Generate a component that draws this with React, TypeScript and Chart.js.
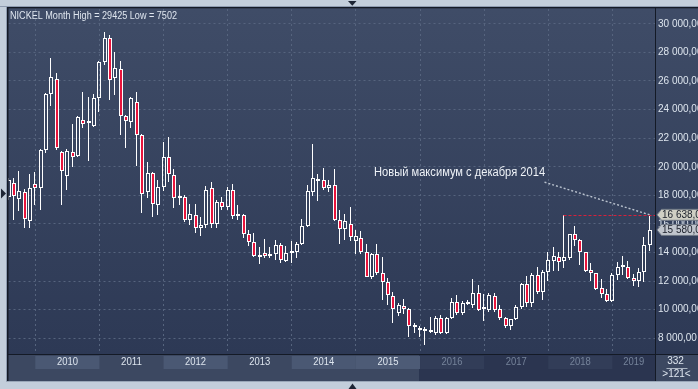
import React, { useEffect, useRef } from 'react';
import { Chart, registerables } from 'chart.js';

Chart.register(...registerables);

// Monthly NICKEL candles, Aug 2009 .. Aug 2019 (121 bars)
const OPEN = [
  17900, 18850, 17750, 18220, 16220,
  18820, 18540, 21200, 25060, 26160, 21060, 19380, 21060, 20780, 23290, 23070, 22850,
  24830, 27340, 29020, 26230, 26810, 23570, 23150, 24500, 22220, 18200, 19590, 17330,
  18610, 20710, 19410, 17780, 17850, 16310, 16660, 15750, 15960, 18480, 16030, 17500,
  17190, 18360, 16570, 16660, 15290, 14770, 13660, 13940, 13750, 13870, 14560, 13420,
  13940, 14010, 14630, 15870, 18240, 19170, 19060, 18480, 18750, 16260, 15640, 16030,
  14800, 15050, 14050, 12310, 13870, 12540, 11960, 10980, 9790, 10280, 10020, 8770,
  8740, 8630, 8420, 8400, 9400, 8400, 9400, 10560, 9750, 10400, 10330, 11140,
  10030, 9980, 10960, 10030, 9400, 8860, 9330, 10160, 11770, 10490, 12420, 11210,
  12610, 13420, 13660, 13420, 13630, 15290, 14910, 14010, 12770, 12540, 11490, 11070,
  10610, 12420, 12960, 12960, 12190, 12000, 12610, 14520,
];
const HIGH = [
  19200, 19200, 19730, 18430, 19480,
  19660, 21250, 25130, 27620, 26530, 21110, 21220, 22970, 23570, 25200, 24850, 25060,
  27390, 29425, 29250, 28000, 27390, 23620, 24900, 25200, 22270, 20310, 19620, 19080,
  21760, 22110, 19870, 18710, 18010, 17380, 17380, 16500, 18640, 18920, 17660, 17850,
  18590, 18780, 17310, 16680, 15610, 15400, 14400, 14940, 14400, 14870, 14680, 14450,
  14800, 14750, 16330, 18710, 21570, 19520, 19940, 19100, 19870, 16960, 16730, 17150,
  15570, 15500, 14630, 13980, 14590, 13700, 12190, 11260, 10490, 10720, 10090, 9090,
  8860, 8810, 9470, 9560, 9630, 9510, 10790, 11030, 10630, 10680, 12120, 11720,
  11070, 11140, 11140, 10330, 9470, 9370, 10330, 11840, 12350, 12540, 12960, 12770,
  14050, 14360, 14050, 16640, 15330, 15850, 14960, 14050, 13280, 12590, 12120, 11450,
  12540, 13350, 13750, 13420, 12470, 12890, 15100, 16638,
];
const LOW = [
  17700, 16290, 16920, 15700, 15700,
  17330, 16990, 20940, 24250, 21180, 17330, 18380, 20010, 20710, 22690, 20410, 22800,
  23850, 27110, 24670, 25020, 22220, 21290, 22690, 20060, 16750, 17800, 16470, 16640,
  18310, 18960, 17080, 17310, 16150, 15910, 15380, 15170, 15750, 15750, 15750, 17010,
  16960, 16330, 16260, 15050, 14450, 13700, 13170, 13590, 13590, 13470, 13240, 13350,
  13280, 13630, 14560, 15800, 17940, 17610, 18400, 18240, 16220, 14630, 14870, 14820,
  13890, 13890, 12260, 12140, 12420, 10680, 10330, 9090, 9560, 9700, 8120, 8400,
  8070, 7502, 8350, 8230, 8300, 8300, 9330, 9630, 9630, 10330, 10100, 9930,
  9200, 9860, 9860, 9280, 8750, 8580, 9280, 10030, 10210, 10210, 11100, 10680,
  12030, 12730, 12730, 12890, 13470, 14450, 13120, 12660, 12030, 11380, 10790, 10560,
  10560, 12070, 12420, 12120, 11650, 11610, 11960, 14120,
];
const CLOSE = [
  19050, 17920, 18270, 16360, 18540,
  18540, 21200, 25060, 26300, 21340, 19730, 21130, 20710, 23460, 23010, 23110, 24780,
  27340, 29020, 26060, 26880, 23550, 23200, 24780, 22220, 18100, 19590, 17400, 18610,
  20710, 19500, 17780, 17890, 16310, 16730, 15750, 15960, 18400, 16030, 17500, 17150,
  18360, 16570, 16660, 15330, 14770, 13750, 13820, 13750, 13890, 14560, 13470, 13980,
  14010, 14630, 15870, 18290, 19240, 19010, 18480, 18750, 16260, 15680, 16190, 15100,
  15150, 14050, 12310, 13870, 12540, 11960, 11030, 10020, 10330, 10020, 8860, 8860,
  8580, 8510, 8470, 9400, 8400, 9400, 10560, 9750, 10440, 10510, 11140, 9980,
  10050, 11000, 9980, 9400, 8860, 9330, 10200, 11780, 10490, 12420, 11240, 12610,
  13470, 13750, 13310, 13660, 15290, 14910, 14010, 12730, 12540, 11450, 11070, 10610,
  12420, 13010, 13050, 12190, 12000, 12660, 14520, 15580,
];

const YEARS = ['2010', '2011', '2012', '2013', '2014', '2015', '2016', '2017', '2018', '2019'];
const FIRST_JAN = 5; // bar index of Jan 2010
const Y_TICKS = [8000, 10000, 12000, 14000, 16000, 18000, 20000, 22000, 24000, 26000, 28000, 30000];
const TITLE = `NICKEL Month High = ${Math.max(...HIGH)} Low = ${Math.min(...LOW)}`;
const NOTE = 'Новый максимум с декабря 2014';
const NOTE_POS = { x: 68.4, y: 19340 };
const NOTE_LINE_START = { x: 100.3, y: 18920 };
const PEAK_FROM = 104; // Apr 2018 high
const LEVEL = 16638;
const LAST_CLOSE = CLOSE[CLOSE.length - 1];
const BARS_INFO = ['332', '>121<'];

const RED = '#e8143c';
const FONT = "'Liberation Sans', Arial, sans-serif";

const fmt = (v: number, dec: string) =>
  Math.round(v).toString().replace(/\B(?=(\d{3})+(?!\d))/g, ' ') + dec;

// snap bar elements (positions computed by the scales) to whole pixels
const snapPlugin = {
  id: 'snap',
  beforeDatasetsDraw(chart: any) {
    chart.data.datasets.forEach((_: any, di: number) => {
      const meta = chart.getDatasetMeta(di);
      meta.data.forEach((el: any) => {
        const X = Math.round(el.x);
        el.x = di === 0 ? X : X - 0.5;
        el.y = Math.round(el.y);
        el.base = Math.round(el.base);
      });
    });
  },
};

const framePlugin = {
  id: 'frame',
  beforeDraw(chart: any) {
    const { ctx, chartArea: a, scales } = chart;
    const x = scales.x;
    const W = chart.width;
    const H = chart.height;
    ctx.save();
    ctx.fillStyle = '#c3cedb';
    ctx.fillRect(0, 0, W, H);
    const g = ctx.createLinearGradient(0, a.top, 0, a.bottom);
    g.addColorStop(0, '#3f4c67');
    g.addColorStop(1, '#2d3955');
    ctx.fillStyle = g;
    ctx.fillRect(7, 7, W - 7, a.bottom - 7);
    // bottom band
    ctx.fillStyle = '#3c4861';
    ctx.fillRect(7, a.bottom, W - 7, 381 - a.bottom);
    ctx.fillStyle = '#2b3550';
    const darkStart = x.getPixelForValue(FIRST_JAN + 12 * 6) - 1;
    ctx.fillRect(darkStart, a.bottom + 1, a.right - darkStart, 381 - a.bottom - 1);
    ctx.font = `10px ${FONT}`;
    ctx.textAlign = 'center';
    ctx.textBaseline = 'middle';
    YEARS.forEach((yr, k) => {
      const x0 = x.getPixelForValue(FIRST_JAN + 12 * k);
      const x1 = Math.min(x.getPixelForValue(FIRST_JAN + 12 * (k + 1)), a.right);
      const future = k >= 6;
      if (k % 2 === 0 || k === 5) {
        ctx.fillStyle = future ? '#323d58' : k === 5 ? '#4d5b76' : '#4a5873';
        ctx.fillRect(x0, a.bottom + 2, x1 - x0, 13);
      }
      ctx.fillStyle = future ? '#75839a' : '#dde5ee';
      ctx.fillText(yr, (x0 + x1) / 2, a.bottom + 8.5, 21);
    });
    ctx.restore();
  },
  afterDraw(chart: any) {
    const { ctx, chartArea: a, scales } = chart;
    const x = scales.x;
    const y = scales.y;
    const W = chart.width;
    ctx.save();
    // borders
    ctx.fillStyle = '#8e9bb0';
    ctx.fillRect(0, 6, W, 1);
    ctx.fillRect(6, 6, 1, 376);
    ctx.fillStyle = '#9aa7b8';
    ctx.fillRect(6, 381, W - 6, 1);
    ctx.fillStyle = '#141a26';
    ctx.fillRect(7, 7, W - 7, 1.3);
    ctx.fillRect(7, 7, 1.5, 374);
    ctx.fillRect(7, a.bottom, W - 7, 1);
    ctx.fillRect(a.right, 7, 1, 374);
    // triangles
    ctx.fillStyle = '#1d2535';
    ctx.beginPath();
    ctx.moveTo(348, 1); ctx.lineTo(356.5, 1); ctx.lineTo(352.3, 5.8); ctx.closePath(); ctx.fill();
    ctx.beginPath();
    ctx.moveTo(348.5, 389); ctx.lineTo(356.5, 389); ctx.lineTo(352.5, 383.5); ctx.closePath(); ctx.fill();
    ctx.beginPath();
    ctx.moveTo(1, 188.5); ctx.lineTo(1, 198.5); ctx.lineTo(6, 193.5); ctx.closePath(); ctx.fill();

    // title
    ctx.fillStyle = '#dfe6ef';
    ctx.font = `10px ${FONT}`;
    ctx.textAlign = 'left';
    ctx.textBaseline = 'alphabetic';
    ctx.fillText(TITLE, 10, 18.5, 167);

    // annotation
    ctx.fillStyle = '#eef2f7';
    ctx.font = `12px ${FONT}`;
    ctx.fillText(NOTE, x.getPixelForValue(NOTE_POS.x), y.getPixelForValue(NOTE_POS.y), 171);

    const xEnd = x.getPixelForValue(OPEN.length - 1);
    const yLevel = y.getPixelForValue(LEVEL);
    ctx.strokeStyle = '#b9c2ce';
    ctx.lineWidth = 1.4;
    ctx.setLineDash([2, 2]);
    ctx.beginPath();
    ctx.moveTo(x.getPixelForValue(NOTE_LINE_START.x), y.getPixelForValue(NOTE_LINE_START.y));
    ctx.lineTo(xEnd, yLevel);
    ctx.stroke();

    ctx.strokeStyle = '#d8203a';
    ctx.lineWidth = 1;
    ctx.setLineDash([3, 2]);
    ctx.beginPath();
    ctx.moveTo(Math.round(x.getPixelForValue(PEAK_FROM)) - 0.5, Math.round(yLevel) + 0.5);
    ctx.lineTo(a.right, Math.round(yLevel) + 0.5);
    ctx.stroke();
    ctx.setLineDash([]);

    // price boxes
    const box = (val: number, fill: string) => {
      const py = y.getPixelForValue(val);
      const left = a.right + 2;
      ctx.beginPath();
      ctx.moveTo(left, py);
      ctx.lineTo(left + 4.5, py - 5.5);
      ctx.lineTo(W + 2, py - 5.5);
      ctx.lineTo(W + 2, py + 5.5);
      ctx.lineTo(left + 4.5, py + 5.5);
      ctx.closePath();
      ctx.fillStyle = fill;
      ctx.fill();
      ctx.strokeStyle = '#6f7785';
      ctx.lineWidth = 1;
      ctx.stroke();
      ctx.fillStyle = '#1a1f2a';
      ctx.font = `10px ${FONT}`;
      ctx.textAlign = 'left';
      ctx.textBaseline = 'middle';
      ctx.fillText(fmt(val, ',0'), left + 5, py + 0.5);
    };
    box(LEVEL, '#cfcfc4');
    box(LAST_CLOSE, '#c0c5cd');

    // bars info
    ctx.fillStyle = '#dfe6ef';
    ctx.font = `10px ${FONT}`;
    ctx.textAlign = 'center';
    ctx.textBaseline = 'middle';
    ctx.fillText(BARS_INFO[0], 675.5, 361);
    ctx.fillText(BARS_INFO[1], 676.5, 374.5);
    ctx.fillStyle = '#aab4c2';
    ctx.fillRect(666.5, 368, 21, 1);
    ctx.restore();
  },
};

export default function App() {
  const ref = useRef<HTMLCanvasElement | null>(null);
  useEffect(() => {
    if (!ref.current) return;
    const idx = OPEN.map((_, i) => i);
    const chart = new Chart(ref.current, {
      type: 'bar',
      data: {
        datasets: [
          {
            label: 'body',
            data: idx.map((i) => ({ x: i, y: [OPEN[i], CLOSE[i]] })) as any,
            backgroundColor: idx.map((i) => (CLOSE[i] >= OPEN[i] ? 'rgba(0,0,0,0)' : RED)),
            borderColor: '#ffffff',
            borderWidth: 1,
            borderSkipped: false,
            barThickness: 4,
            minBarLength: 2,
            grouped: false,
            inflateAmount: 0,
            clip: 0,
          } as any,
          {
            label: 'upper wick',
            data: idx.map((i) => ({ x: i, y: [Math.max(OPEN[i], CLOSE[i]), HIGH[i]] })) as any,
            backgroundColor: '#ffffff',
            borderWidth: 0,
            barThickness: 1,
            grouped: false,
            inflateAmount: 0,
            clip: 0,
          } as any,
          {
            label: 'lower wick',
            data: idx.map((i) => ({ x: i, y: [LOW[i], Math.min(OPEN[i], CLOSE[i])] })) as any,
            backgroundColor: '#ffffff',
            borderWidth: 0,
            barThickness: 1,
            grouped: false,
            inflateAmount: 0,
            clip: 0,
          } as any,
        ],
      },
      options: {
        animation: false,
        responsive: false,
        events: [],
        layout: { padding: { left: 8.5, top: 8.5, right: 0, bottom: 0 } },
        plugins: {
          legend: { display: false },
          tooltip: { enabled: false },
          title: { display: false },
        },
        scales: {
          x: {
            type: 'linear',
            min: -0.02,
            max: 120.98,
            offset: false,
            afterBuildTicks: (s: any) => {
              s.ticks = YEARS.map((_, k) => ({ value: FIRST_JAN + 12 * k }));
            },
            afterFit: (s: any) => {
              s.height = 35;
            },
            ticks: { display: false },
            grid: { color: '#56647e', drawTicks: false, offset: false, lineWidth: 1 },
            border: { display: false, dash: [2, 3] },
          },
          y: {
            position: 'right',
            min: 6903,
            max: 31034,
            afterBuildTicks: (s: any) => {
              s.ticks = Y_TICKS.map((v) => ({ value: v }));
            },
            afterFit: (s: any) => {
              s.width = 43;
            },
            ticks: {
              color: '#dde5ee',
              font: { family: FONT, size: 10 },
              padding: 3,
              callback: (v: any) => fmt(Number(v), ',00'),
            },
            grid: { color: '#56647e', drawTicks: false, lineWidth: 1 },
            border: { display: false, dash: [2, 3] },
          },
        },
      } as any,
      plugins: [snapPlugin, framePlugin],
    });
    return () => chart.destroy();
  }, []);
  return (
    <div style={{ position: 'fixed', left: 0, top: 0, width: 698, height: 389 }}>
      <canvas ref={ref} width={698} height={389} style={{ display: 'block', width: 698, height: 389 }} />
    </div>
  );
}
